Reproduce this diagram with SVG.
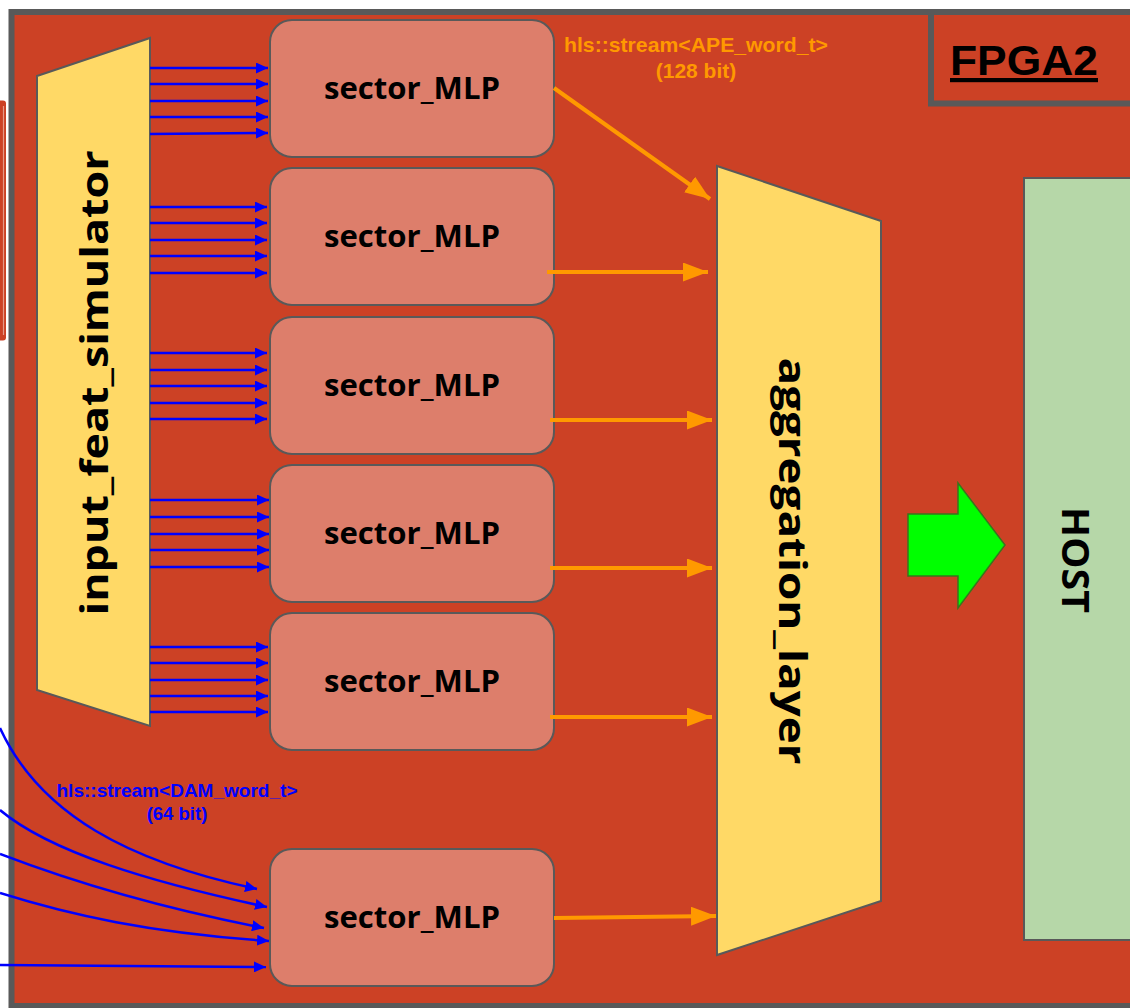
<svg xmlns="http://www.w3.org/2000/svg" width="1130" height="1008" viewBox="0 0 1130 1008">
  <defs>
    <style>
      .mlp { fill: #dd7e6b; stroke: #595959; stroke-width: 2; }
      .mlp-label { font-family: "Open Sans", "Liberation Sans", sans-serif; font-weight: 700; font-size: 30px; fill: #000; text-anchor: middle; }
      .trap { fill: #ffd966; stroke: #595959; stroke-width: 2; }
      .big-label { font-family: "Open Sans", "Liberation Sans", sans-serif; font-weight: 700; font-size: 38px; fill: #000; text-anchor: middle; }
      .feat { stroke: #0000ff; stroke-width: 2.5; fill: none; marker-end: url(#blueHead); }
      .ape { stroke: #ff9900; stroke-width: 4; fill: none; marker-end: url(#orangeHead); }
      .stream { font-family: "Liberation Sans", Arial, sans-serif; font-weight: 700; text-anchor: middle; }
    </style>
    <marker id="blueHead" markerUnits="userSpaceOnUse" markerWidth="13" markerHeight="11" refX="12" refY="5.5" orient="auto">
      <path d="M0,0 L12,5.5 L0,11 z" fill="#0000ff"/>
    </marker>
    <marker id="orangeHead" markerUnits="userSpaceOnUse" markerWidth="26" markerHeight="19" refX="25" refY="9.5" orient="auto">
      <path d="M0,0 L25,9.5 L0,19 z" fill="#ff9900"/>
    </marker>
  </defs>

  <!-- page background -->
  <rect x="0" y="0" width="1130" height="1008" fill="#ffffff"/>

  <!-- neighbouring board edge at the far left -->
  <g id="left-board">
    <rect x="-20" y="100.5" width="26" height="240" rx="3" fill="#cc4125"/>
    <line x1="3.5" y1="106" x2="3.5" y2="335" stroke="#e79a89" stroke-width="1.2"/>
  </g>

  <!-- FPGA board -->
  <g id="fpga2">
    <rect x="11.5" y="12" width="1200" height="994" fill="#cc4125" stroke="#595959" stroke-width="6"/>
    <rect x="931" y="12" width="300" height="91.5" fill="none" stroke="#595959" stroke-width="6"/>
    <text x="1024" y="75" font-family="Liberation Sans, Arial, sans-serif" font-weight="700" font-size="42" text-anchor="middle" text-decoration="underline" textLength="148" lengthAdjust="spacingAndGlyphs">FPGA2</text>
  </g>

  <!-- feature simulator -->
  <g id="input_feat_simulator">
    <polygon class="trap" points="37,76 150,38 150,726 37,690"/>
    <text class="big-label" transform="translate(108,383) rotate(-90)" textLength="465" lengthAdjust="spacingAndGlyphs">input_feat_simulator</text>
  </g>

  <!-- sector MLPs -->
  <g id="sector_MLP_1">
    <rect class="mlp" x="270" y="20" width="284" height="137" rx="22"/>
    <text class="mlp-label" x="412" y="99" textLength="176" lengthAdjust="spacingAndGlyphs">sector_MLP</text>
  </g>
  <g id="sector_MLP_2">
    <rect class="mlp" x="270" y="168" width="284" height="137" rx="22"/>
    <text class="mlp-label" x="412" y="247" textLength="176" lengthAdjust="spacingAndGlyphs">sector_MLP</text>
  </g>
  <g id="sector_MLP_3">
    <rect class="mlp" x="270" y="317" width="284" height="137" rx="22"/>
    <text class="mlp-label" x="412" y="396" textLength="176" lengthAdjust="spacingAndGlyphs">sector_MLP</text>
  </g>
  <g id="sector_MLP_4">
    <rect class="mlp" x="270" y="465" width="284" height="137" rx="22"/>
    <text class="mlp-label" x="412" y="544" textLength="176" lengthAdjust="spacingAndGlyphs">sector_MLP</text>
  </g>
  <g id="sector_MLP_5">
    <rect class="mlp" x="270" y="613" width="284" height="137" rx="22"/>
    <text class="mlp-label" x="412" y="692" textLength="176" lengthAdjust="spacingAndGlyphs">sector_MLP</text>
  </g>
  <g id="sector_MLP_6">
    <rect class="mlp" x="270" y="849" width="284" height="137" rx="22"/>
    <text class="mlp-label" x="412" y="928" textLength="176" lengthAdjust="spacingAndGlyphs">sector_MLP</text>
  </g>

  <!-- aggregation -->
  <g id="aggregation_layer">
    <polygon class="trap" points="717,166 881,221 881,901 717,955"/>
    <text class="big-label" transform="translate(779,561) rotate(90)" textLength="407" lengthAdjust="spacingAndGlyphs">aggregation_layer</text>
  </g>

  <!-- host -->
  <g id="host">
    <rect x="1024" y="178" width="140" height="762" fill="#b6d7a8" stroke="#595959" stroke-width="2"/>
    <text class="big-label" transform="translate(1062,560) rotate(90)" textLength="106" lengthAdjust="spacingAndGlyphs">HOST</text>
  </g>

  <!-- output towards host -->
  <g id="to_host">
    <polygon points="908,514 958,514 958,483 1005,545 958,608 958,576 908,576" fill="#00ff00" stroke="#38761d" stroke-width="1.5"/>
  </g>

  <!-- connectors -->
  <g id="connectors">
    <!-- feature streams into MLPs 1-5 -->
    <path class="feat" d="M150,68 H268"/>
    <path class="feat" d="M150,84 H268"/>
    <path class="feat" d="M150,101 H268"/>
    <path class="feat" d="M150,117 H268"/>
    <path class="feat" d="M150,134 L268,133"/>

    <path class="feat" d="M150,207 H267"/>
    <path class="feat" d="M150,223 H267"/>
    <path class="feat" d="M150,240 H267"/>
    <path class="feat" d="M150,256 H267"/>
    <path class="feat" d="M150,273 H267"/>

    <path class="feat" d="M150,353 H267"/>
    <path class="feat" d="M150,370 H267"/>
    <path class="feat" d="M150,386 H267"/>
    <path class="feat" d="M150,403 H267"/>
    <path class="feat" d="M150,419 H267"/>

    <path class="feat" d="M150,500 H269"/>
    <path class="feat" d="M150,517 H269"/>
    <path class="feat" d="M150,534 H269"/>
    <path class="feat" d="M150,550 H269"/>
    <path class="feat" d="M150,567 H269"/>

    <path class="feat" d="M150,647 H268"/>
    <path class="feat" d="M150,663 H268"/>
    <path class="feat" d="M150,680 H268"/>
    <path class="feat" d="M150,696 H268"/>
    <path class="feat" d="M150,712 H268"/>

    <!-- external feature streams into MLP 6 -->
    <path class="feat" d="M0,728 C40,815 130,862 257,889"/>
    <path class="feat" d="M0,810 C50,852 150,882 267,907"/>
    <path class="feat" d="M0,854 C60,877 150,906 264,928"/>
    <path class="feat" d="M0,893 C70,915 150,933 269,941"/>
    <path class="feat" d="M0,965 L266,967"/>

    <!-- APE streams into aggregation -->
    <path class="ape" d="M554,88 L710,199"/>
    <path class="ape" d="M547,272 H708"/>
    <path class="ape" d="M550,420 H712"/>
    <path class="ape" d="M550,568 H712"/>
    <path class="ape" d="M550,717 H712"/>
    <path class="ape" d="M554,918 L716,916"/>
  </g>

  <!-- stream labels -->
  <g id="labels">
    <text class="stream" fill="#ff9900" x="696" y="52" font-size="21" textLength="264" lengthAdjust="spacingAndGlyphs">hls::stream&lt;APE_word_t&gt;</text>
    <text class="stream" fill="#ff9900" x="696" y="78" font-size="21">(128 bit)</text>
    <text class="stream" fill="#0000ff" x="177" y="797" font-size="18.5" textLength="241" lengthAdjust="spacingAndGlyphs">hls::stream&lt;DAM_word_t&gt;</text>
    <text class="stream" fill="#0000ff" x="177" y="820" font-size="18.5">(64 bit)</text>
  </g>
</svg>
